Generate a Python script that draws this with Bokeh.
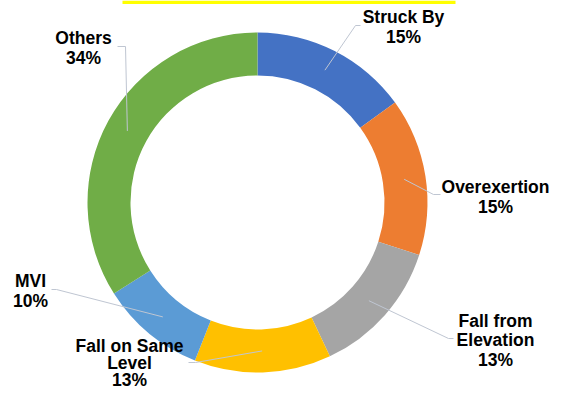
import numpy as np
from bokeh.plotting import figure
from bokeh.models import Range1d, ColumnDataSource
from bokeh.embed import file_html
from bokeh.resources import INLINE
from bokeh.core.properties import value

# ---- data ----
categories = ["Struck By", "Overexertion", "Fall from Elevation",
              "Fall on Same Level", "MVI", "Others"]
percents = [15, 15, 13, 13, 10, 34]
label_lines = [["Struck By"], ["Overexertion"], ["Fall from", "Elevation"],
               ["Fall on Same", "Level"], ["MVI"], ["Others"]]

# ---- style / layout (picture pixel coords) ----
colors = ["#4472C4", "#ED7D31", "#A5A5A5", "#FFC000", "#5B9BD5", "#70AD47"]
W, H = 551, 393
CX, CY = 257, 202
R_IN, R_OUT = 127, 170
R_ANCHOR = 148.5
label_pos = [(403, 16), (495, 186), (495, 320), (129, 345), (30, 280), (83, 37)]
line_gaps = [20, 20, 19.5, 17, 20, 20]
elbows = [[(355, 25), (360, 25)],
          [(433, 194), (440, 194)],
          [(448, 338), (453, 338)],
          [(195, 362), (188, 362)],
          [(56, 289), (51, 289)],
          [(125, 46), (117, 46)]]
BANNER = (122, 455, 0, 3.5)  # left, right, top, bottom of the cut-off title box
FONT = value("Liberation Sans")

def fy(y):
    return H - y

vals = np.array(percents, dtype=float)
cum = np.cumsum(vals)
prev = cum - vals
total = vals.sum()
start = np.pi / 2 - 2 * np.pi * prev / total
end = np.pi / 2 - 2 * np.pi * cum / total
mid = (start + end) / 2

p = figure(width=W, height=H, x_range=Range1d(0, W), y_range=Range1d(0, H),
           output_backend="svg", toolbar_location=None, min_border=0)
p.axis.visible = False
p.grid.visible = False
p.outline_line_color = None
p.background_fill_color = "white"

# cut-off yellow title box at the top edge
p.quad(left=[BANNER[0]], right=[BANNER[1]], top=[fy(BANNER[2])], bottom=[fy(BANNER[3])],
       fill_color="#FFFF00", line_color=None)

src = ColumnDataSource(dict(start=start, end=end, color=colors, cat=categories))
p.annular_wedge(x=CX, y=fy(CY), inner_radius=R_IN, outer_radius=R_OUT,
                start_angle="start", end_angle="end", direction="clock",
                fill_color="color", line_color=None, source=src)

# leader lines
xs, ys = [], []
for i in range(len(percents)):
    ax = CX + R_ANCHOR * np.cos(mid[i])
    ay = fy(CY) + R_ANCHOR * np.sin(mid[i])
    xs.append([ax] + [e[0] for e in elbows[i]])
    ys.append([ay] + [fy(e[1]) for e in elbows[i]])
p.multi_line(xs=xs, ys=ys, line_color="#BFC6D2", line_width=1)

# labels
tx, ty, tt = [], [], []
for i, cat in enumerate(categories):
    lines = label_lines[i] + [f"{percents[i]}%"]
    cx, cy = label_pos[i]
    for j, ln in enumerate(lines):
        tx.append(cx)
        ty.append(fy(cy + j * line_gaps[i]))
        tt.append(ln)
p.text(x=tx, y=ty, text=tt, text_font=FONT, text_font_style="bold",
       text_font_size="17.5px", text_align="center", text_baseline="middle",
       text_color="black")

open("out.html", "w").write(file_html(p, INLINE))
